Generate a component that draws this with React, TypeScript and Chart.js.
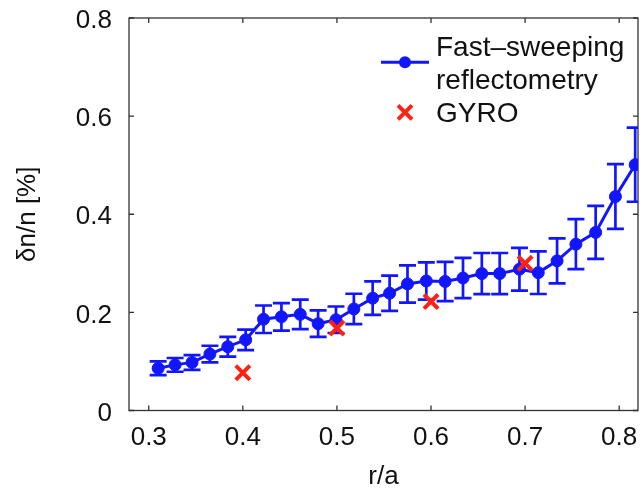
import React, { useEffect, useRef } from 'react';
import { Chart, registerables } from 'chart.js';

Chart.register(...registerables);

// r/a positions of the reflectometry points
const rPos = [0.310, 0.328, 0.346, 0.365, 0.384, 0.403, 0.422, 0.441, 0.461, 0.480, 0.499, 0.518, 0.538, 0.556, 0.575, 0.595, 0.615, 0.634, 0.654, 0.673, 0.694, 0.714, 0.734, 0.754, 0.775, 0.796, 0.817];
// δn/n values [%]
const dnValues = [0.086, 0.093, 0.098, 0.115, 0.130, 0.144, 0.186, 0.191, 0.196, 0.177, 0.185, 0.207, 0.229, 0.239, 0.258, 0.264, 0.263, 0.270, 0.279, 0.279, 0.288, 0.281, 0.305, 0.339, 0.363, 0.436, 0.501];
// symmetric error bar half-heights
const dnErrors = [0.014, 0.014, 0.015, 0.017, 0.020, 0.021, 0.028, 0.028, 0.030, 0.027, 0.027, 0.031, 0.034, 0.036, 0.038, 0.038, 0.040, 0.041, 0.042, 0.042, 0.0435, 0.0435, 0.046, 0.051, 0.054, 0.066, 0.0755];

// GYRO simulation points
const gyroR = [0.4, 0.5, 0.6, 0.7];
const gyroValues = [0.077, 0.168, 0.222, 0.300];

const xTicks = [0.3, 0.4, 0.5, 0.6, 0.7, 0.8];
const yTicks = [0, 0.2, 0.4, 0.6, 0.8];

const legendLines = ['Fast–sweeping', 'reflectometry'];
const gyroLabel = 'GYRO';
const xTitle = 'r/a';
const yTitle = 'δn/n [%]';

const BLUE = 'rgb(18,22,255)';
const RED = 'rgb(255,34,20)';
const FONT = '"Liberation Sans", Arial, Helvetica, sans-serif';
const TEXT = '#111';

const framePlugin = {
  id: 'frame',
  beforeDatasetsDraw(chart: any) {
    const { ctx, chartArea: a, scales } = chart;
    ctx.save();
    ctx.strokeStyle = '#333';
    ctx.lineWidth = 1.3;
    ctx.strokeRect(a.left, a.top, a.right - a.left, a.bottom - a.top);
    const tl = 5;
    ctx.beginPath();
    xTicks.forEach((v) => {
      const px = scales.x.getPixelForValue(v);
      ctx.moveTo(px, a.bottom);
      ctx.lineTo(px, a.bottom - tl);
      ctx.moveTo(px, a.top);
      ctx.lineTo(px, a.top + tl);
    });
    yTicks.forEach((v) => {
      const py = scales.y.getPixelForValue(v);
      ctx.moveTo(a.left, py);
      ctx.lineTo(a.left + tl, py);
      ctx.moveTo(a.right, py);
      ctx.lineTo(a.right - tl, py);
    });
    ctx.stroke();
    ctx.restore();
  },
};

const errorBarPlugin = {
  id: 'errorBars',
  beforeDatasetsDraw(chart: any) {
    const { ctx, chartArea: a, scales } = chart;
    ctx.save();
    ctx.beginPath();
    ctx.rect(a.left, a.top, a.right - a.left, a.bottom - a.top);
    ctx.clip();
    ctx.strokeStyle = BLUE;
    ctx.lineWidth = 2.7;
    const cap = 8.5;
    ctx.beginPath();
    rPos.forEach((r, i) => {
      const px = scales.x.getPixelForValue(r);
      const yLo = scales.y.getPixelForValue(dnValues[i] - dnErrors[i]);
      const yHi = scales.y.getPixelForValue(dnValues[i] + dnErrors[i]);
      ctx.moveTo(px, yLo);
      ctx.lineTo(px, yHi);
      ctx.moveTo(px - cap, yLo);
      ctx.lineTo(px + cap, yLo);
      ctx.moveTo(px - cap, yHi);
      ctx.lineTo(px + cap, yHi);
    });
    ctx.stroke();
    ctx.restore();
  },
};

const legendPlugin = {
  id: 'customLegend',
  afterDraw(chart: any) {
    const { ctx, chartArea: a } = chart;
    const x0 = a.right - 257;
    ctx.save();
    // line + marker sample
    ctx.strokeStyle = BLUE;
    ctx.lineWidth = 3;
    ctx.beginPath();
    ctx.moveTo(x0, a.top + 44.3);
    ctx.lineTo(x0 + 48, a.top + 44.3);
    ctx.stroke();
    ctx.fillStyle = BLUE;
    ctx.beginPath();
    ctx.arc(x0 + 24, a.top + 44.3, 6, 0, Math.PI * 2);
    ctx.fill();
    // cross sample
    const cx = x0 + 24;
    const cy = a.top + 94.3;
    const h = 7;
    ctx.strokeStyle = RED;
    ctx.lineWidth = 4;
    ctx.beginPath();
    ctx.moveTo(cx - h, cy - h);
    ctx.lineTo(cx + h, cy + h);
    ctx.moveTo(cx - h, cy + h);
    ctx.lineTo(cx + h, cy - h);
    ctx.stroke();
    // texts
    ctx.fillStyle = TEXT;
    ctx.font = `28px ${FONT}`;
    ctx.textBaseline = 'alphabetic';
    ctx.textAlign = 'left';
    const tx = x0 + 55;
    ctx.fillText(legendLines[0], tx, a.top + 38);
    ctx.fillText(legendLines[1], tx, a.top + 71);
    ctx.fillText(gyroLabel, tx, a.top + 104);
    ctx.restore();
  },
};

const zeroPadding = (s: any) => {
  s.paddingLeft = 0;
  s.paddingRight = 0;
  s.paddingTop = 0;
  s.paddingBottom = 0;
};

export default function App() {
  const ref = useRef<HTMLCanvasElement>(null);
  useEffect(() => {
    const canvas = ref.current;
    if (!canvas) return;
    const chart = new Chart(canvas, {
      type: 'scatter',
      data: {
        datasets: [
          {
            label: gyroLabel,
            data: gyroR.map((x, i) => ({ x, y: gyroValues[i] })),
            showLine: false,
            pointStyle: 'crossRot',
            pointRadius: 10,
            pointBorderWidth: 4,
            pointBorderColor: RED,
            pointBackgroundColor: RED,
            order: 0,
          } as any,
          {
            label: legendLines.join(' '),
            data: rPos.map((x, i) => ({ x, y: dnValues[i] })),
            showLine: true,
            borderColor: BLUE,
            borderWidth: 3,
            pointRadius: 6,
            pointBorderWidth: 1,
            pointBorderColor: BLUE,
            pointBackgroundColor: BLUE,
            order: 1,
          } as any,
        ],
      },
      options: {
        responsive: false,
        animation: false,
        devicePixelRatio: 1,
        layout: { autoPadding: false, padding: { left: 0, top: 18, right: 4, bottom: 0 } },
        plugins: { legend: { display: false }, tooltip: { enabled: false } },
        scales: {
          x: {
            type: 'linear',
            min: 0.279,
            max: 0.82,
            grid: { display: false, drawTicks: false },
            border: { display: false },
            afterBuildTicks: (s: any) => {
              s.ticks = xTicks.map((v) => ({ value: v }));
            },
            afterFit: (s: any) => {
              s.height = 79.5;
              zeroPadding(s);
            },
            ticks: {
              padding: 12,
              color: TEXT,
              font: { family: FONT, size: 26 },
              maxRotation: 0,
              callback: (v: any) => Number(v).toFixed(1),
            },
            title: {
              display: true,
              text: xTitle,
              color: TEXT,
              font: { family: FONT, size: 26, lineHeight: 1 },
              padding: { top: 0, bottom: 0 },
            },
          },
          y: {
            type: 'linear',
            min: 0,
            max: 0.8,
            grid: { display: false, drawTicks: false },
            border: { display: false },
            afterBuildTicks: (s: any) => {
              s.ticks = yTicks.map((v) => ({ value: v }));
            },
            afterFit: (s: any) => {
              s.width = 129;
              zeroPadding(s);
            },
            ticks: {
              padding: 17,
              labelOffset: 3,
              color: TEXT,
              font: { family: FONT, size: 26 },
              callback: (v: any) => (Number(v) === 0 ? '0' : Number(v).toFixed(1)),
            },
            title: {
              display: true,
              text: yTitle,
              color: TEXT,
              font: { family: FONT, size: 26 },
              padding: { top: 12, bottom: 0 },
            },
          },
        },
      } as any,
      plugins: [framePlugin, errorBarPlugin, legendPlugin],
    });
    return () => chart.destroy();
  }, []);
  return (
    <div style={{ position: 'fixed', left: 0, top: 0, width: 642, height: 490, background: '#fff' }}>
      <canvas ref={ref} width={642} height={490} />
    </div>
  );
}
